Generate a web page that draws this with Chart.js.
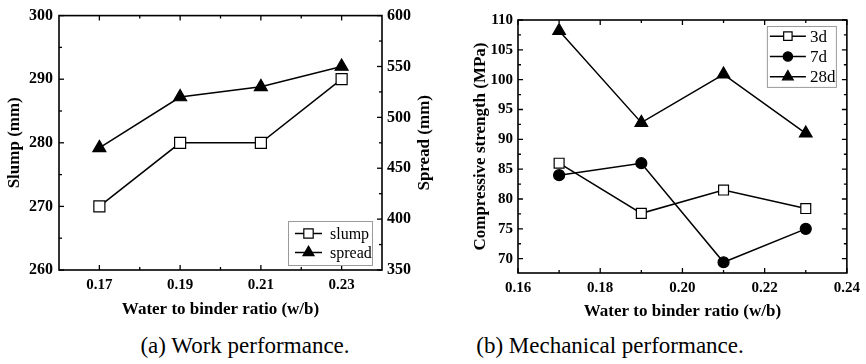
<!DOCTYPE html>
<html><head><meta charset="utf-8">
<script src="https://cdn.jsdelivr.net/npm/chart.js@4/dist/chart.umd.min.js"></script>
<style>
html,body{margin:0;padding:0;background:#fff;width:866px;height:364px;overflow:hidden;position:relative;}
#wa{position:absolute;left:0;top:0;width:440px;height:330px;}
#wb{position:absolute;left:440px;top:0;width:426px;height:330px;}
.cap{position:absolute;top:334px;font-family:"Liberation Serif","Times New Roman",serif;font-size:23px;line-height:23px;color:#000;white-space:nowrap;transform:translateX(-50%);}
</style></head><body>
<div id="wa"><canvas id="ca"></canvas></div>
<div id="wb"><canvas id="cb"></canvas></div>
<div class="cap" style="left:245px">(a) Work performance.</div>
<div class="cap" style="left:610px">(b) Mechanical performance.</div>
<script>
// ---- data ----
const wbRatios = [0.17, 0.19, 0.21, 0.23];
const slump = [270, 280, 280, 290];
const spread = [470, 520, 530, 550];
const strength3d = [86, 77.6, 81.5, 78.4];
const strength7d = [84, 86, 69.4, 75];
const strength28d = [108.2, 92.8, 100.9, 91];
const slumpTicks = [260, 270, 280, 290, 300];
const spreadTicks = [350, 400, 450, 500, 550, 600];
const wbTicksA = [0.17, 0.19, 0.21, 0.23];
const wbTicksB = [0.16, 0.18, 0.20, 0.22, 0.24];
const strengthTicks = [70, 75, 80, 85, 90, 95, 100, 105, 110];
const seriesLabelsA = ['slump', 'spread'];
const seriesLabelsB = ['3d', '7d', '28d'];

const SERIF = '"Liberation Serif","Times New Roman",serif';
Chart.defaults.color = '#000';
Chart.defaults.font.family = SERIF;

const pts = (xs, ys) => xs.map((x, i) => ({x: x, y: ys[i]}));
const setTicks = arr => (s => { s.ticks = arr.map(v => ({value: v})); });
const minorOf = arr => { const m = []; for (let i = 0; i < arr.length - 1; i++) m.push((arr[i] + arr[i + 1]) / 2); return m; };

function drawMarker(ctx, style, x, y, r, fill) {
  ctx.beginPath();
  if (style === 'rect') {
    const s = Math.SQRT1_2 * r; ctx.rect(x - s, y - s, 2 * s, 2 * s);
  } else if (style === 'triangle') {
    let a = 0;
    ctx.moveTo(x + Math.sin(a) * r, y - Math.cos(a) * r); a += 2 * Math.PI / 3;
    ctx.lineTo(x + Math.sin(a) * r, y - Math.cos(a) * r); a += 2 * Math.PI / 3;
    ctx.lineTo(x + Math.sin(a) * r, y - Math.cos(a) * r); ctx.closePath();
  } else {
    ctx.arc(x, y, r, 0, Math.PI * 2);
  }
  ctx.fillStyle = fill; ctx.fill(); ctx.stroke();
}

// frame + inward ticks + legend + right-axis title (read bottom-to-top)
const framePlugin = {
  id: 'frame',
  beforeDatasetsDraw(chart, args, opts) {
    const ctx = chart.ctx, ca = chart.chartArea;
    ctx.save();
    ctx.strokeStyle = '#000'; ctx.lineWidth = 1.6;
    ctx.strokeRect(ca.left, ca.top, ca.right - ca.left, ca.bottom - ca.top);
    ctx.lineWidth = 1.3;
    const MAJ = 5, MIN = 3;
    (opts.axes || []).forEach(ax => {
      const sc = chart.scales[ax.id];
      const majors = sc.ticks.map(t => t.value);
      const minors = minorOf(majors);
      [[majors, MAJ], [minors, MIN]].forEach(([vals, len]) => {
        vals.forEach(v => {
          const p = sc.getPixelForValue(v);
          ctx.beginPath();
          if (ax.side === 'bottom') {
            ctx.moveTo(p, ca.bottom); ctx.lineTo(p, ca.bottom - len);
            ctx.moveTo(p, ca.top); ctx.lineTo(p, ca.top + len);
          } else if (ax.side === 'left') {
            ctx.moveTo(ca.left, p); ctx.lineTo(ca.left + len, p);
            if (ax.mirror) { ctx.moveTo(ca.right, p); ctx.lineTo(ca.right - len, p); }
          } else if (ax.side === 'right') {
            ctx.moveTo(ca.right, p); ctx.lineTo(ca.right - len, p);
          }
          ctx.stroke();
        });
      });
    });
    ctx.restore();
  },
  afterDraw(chart, args, opts) {
    const ctx = chart.ctx, ca = chart.chartArea;
    if (opts.rightTitle) {
      const rt = opts.rightTitle, sc = chart.scales[rt.id];
      ctx.save();
      ctx.translate(sc.right - rt.offset, (ca.top + ca.bottom) / 2);
      ctx.rotate(-Math.PI / 2);
      ctx.font = 'bold ' + rt.size + 'px ' + SERIF;
      ctx.fillStyle = '#000'; ctx.textAlign = 'center'; ctx.textBaseline = 'middle';
      ctx.fillText(rt.text, 0, 0);
      ctx.restore();
    }
    const lg = opts.legend; if (!lg) return;
    const ds = chart.data.datasets;
    const w = lg.width, h = lg.rowH * ds.length + lg.padY * 2;
    const bx = lg.alignRight ? ca.right - lg.dx - w : ca.left + lg.dx;
    const by = lg.fromBottom ? ca.bottom - lg.dy - h : ca.top + lg.dy;
    ctx.save();
    ctx.fillStyle = '#fff'; ctx.fillRect(bx, by, w, h);
    ctx.strokeStyle = '#9a9a9a'; ctx.lineWidth = 1; ctx.strokeRect(bx + 0.5, by + 0.5, w, h);
    ds.forEach((d, i) => {
      const cy = by + lg.padY + lg.rowH * (i + 0.5);
      const x0 = bx + lg.lineX0, x1 = bx + lg.lineX1, xm = (x0 + x1) / 2;
      ctx.strokeStyle = '#000'; ctx.lineWidth = 1.5;
      ctx.beginPath(); ctx.moveTo(x0, cy); ctx.lineTo(x1, cy); ctx.stroke();
      ctx.lineWidth = 1.2;
      drawMarker(ctx, d.pointStyle, xm, cy, d.pointRadius * lg.markerScale, d.pointBackgroundColor);
      ctx.fillStyle = '#000';
      ctx.font = lg.fontSize + 'px ' + SERIF;
      ctx.textBaseline = 'middle'; ctx.textAlign = 'left';
      ctx.fillText(d.label, x1 + lg.textGap, cy + 1);
    });
    ctx.restore();
  }
};

function ds(label, data, style, r, fill) {
  return {
    label: label, data: data, borderColor: '#000', borderWidth: 1.5, tension: 0,
    pointStyle: style, pointRadius: r, pointHoverRadius: r,
    pointBackgroundColor: fill, pointBorderColor: '#000', pointBorderWidth: 1.2,
    clip: false
  };
}

const tickFontA = {family: SERIF, size: 16, weight: 'bold'};
const tickFontB = {family: SERIF, size: 15, weight: 'bold'};
const titleFont = {family: SERIF, size: 17, weight: 'bold'};

// ---- chart (a) ----
const dA1 = ds(seriesLabelsA[0], pts(wbRatios, slump), 'rect', 7.8, '#fff'); dA1.yAxisID = 'y';
const dA2 = ds(seriesLabelsA[1], pts(wbRatios, spread), 'triangle', 7.5, '#000'); dA2.yAxisID = 'y1';
new Chart(document.getElementById('ca'), {
  type: 'line',
  data: {datasets: [dA1, dA2]},
  options: {
    responsive: true, maintainAspectRatio: false, animation: false,
    layout: {padding: {top: 9, left: 0, right: 0, bottom: 0}},
    plugins: {legend: {display: false}, tooltip: {enabled: false},
      frame: {
        axes: [{id: 'x', side: 'bottom'}, {id: 'y', side: 'left'}, {id: 'y1', side: 'right'}],
        rightTitle: {id: 'y1', text: 'Spread (mm)', size: 17, offset: 15},
        legend: {width: 84, rowH: 19, padY: 3, alignRight: true, dx: 10, fromBottom: true, dy: 5,
                 lineX0: 7, lineX1: 34, textGap: 8, fontSize: 16, markerScale: 0.85}
      }},
    scales: {
      x: {type: 'linear', min: 0.16, max: 0.24, afterBuildTicks: setTicks(wbTicksA),
          grid: {display: false, drawTicks: false}, border: {display: false},
          ticks: {font: tickFontB, padding: 6, autoSkip: false, maxRotation: 0, callback: v => v.toFixed(2)},
          title: {display: true, text: 'Water to binder ratio (w/b)', font: titleFont, padding: {top: 0, bottom: 10}},
          afterFit: s => { s.height = 60; }},
      y: {type: 'linear', position: 'left', min: 260, max: 300, afterBuildTicks: setTicks(slumpTicks),
          grid: {display: false, drawTicks: false}, border: {display: false},
          ticks: {font: tickFontA, padding: 6},
          title: {display: true, text: 'Slump (mm)', font: titleFont, padding: {top: 4, bottom: 0}},
          afterFit: s => { s.width = 59; }},
      y1: {type: 'linear', position: 'right', min: 350, max: 600, afterBuildTicks: setTicks(spreadTicks),
          grid: {display: false, drawTicks: false}, border: {display: false},
          ticks: {font: tickFontA, padding: 5},
          title: {display: false},
          afterFit: s => { s.width = 58; }}
    }
  },
  plugins: [framePlugin]
});

// ---- chart (b) ----
new Chart(document.getElementById('cb'), {
  type: 'line',
  data: {datasets: [
    ds(seriesLabelsB[0], pts(wbRatios, strength3d), 'rect', 7, '#fff'),
    ds(seriesLabelsB[1], pts(wbRatios, strength7d), 'circle', 5.5, '#000'),
    ds(seriesLabelsB[2], pts(wbRatios, strength28d), 'triangle', 7.3, '#000')
  ]},
  options: {
    responsive: true, maintainAspectRatio: false, animation: false,
    layout: {padding: {top: 20, left: 0, right: 17, bottom: 0}},
    plugins: {legend: {display: false}, tooltip: {enabled: false},
      frame: {
        axes: [{id: 'x', side: 'bottom'}, {id: 'y', side: 'left', mirror: true}],
        legend: {width: 69, rowH: 20.3, padY: 0, alignRight: true, dx: 11, fromBottom: false, dy: 6,
                 lineX0: 3, lineX1: 39, textGap: 4, fontSize: 17, markerScale: 0.85}
      }},
    scales: {
      x: {type: 'linear', min: 0.16, max: 0.24, afterBuildTicks: setTicks(wbTicksB),
          grid: {display: false, drawTicks: false}, border: {display: false},
          ticks: {font: tickFontB, padding: 6, autoSkip: false, maxRotation: 0, callback: v => v.toFixed(2)},
          title: {display: true, text: 'Water to binder ratio (w/b)', font: titleFont, padding: {top: 0, bottom: 8}},
          afterFit: s => { s.height = 57; }},
      y: {type: 'linear', position: 'left', min: 67.6, max: 110, afterBuildTicks: setTicks(strengthTicks),
          grid: {display: false, drawTicks: false}, border: {display: false},
          ticks: {font: tickFontB, padding: 5},
          title: {display: true, text: 'Compressive strength (MPa)', font: titleFont, padding: {top: 30, bottom: 0}},
          afterFit: s => { s.width = 78; }}
    }
  },
  plugins: [framePlugin]
});
</script>
</body></html>
